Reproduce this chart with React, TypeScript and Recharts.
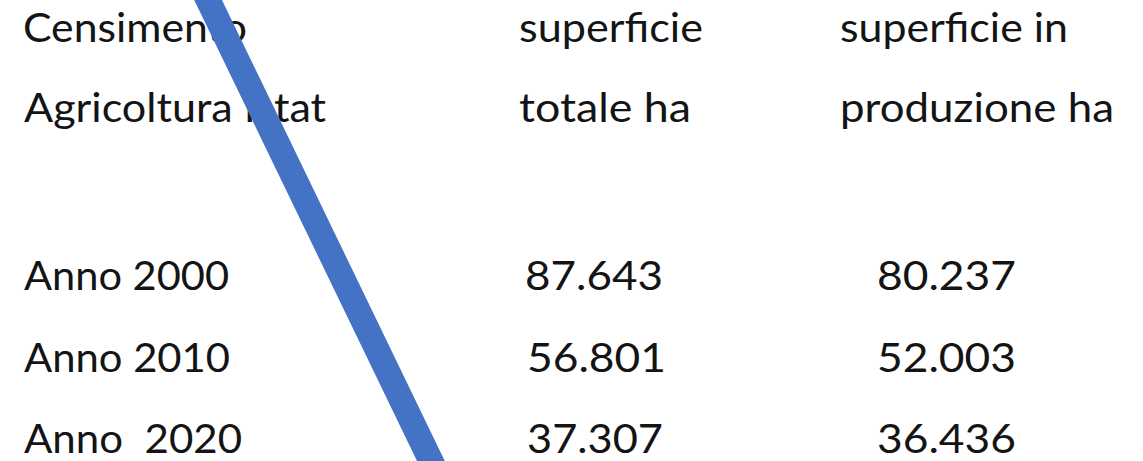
import React from "react";
import { ComposedChart, Line, XAxis, YAxis } from "recharts";

const W = 1143;
const H = 461;

// Table content
const headerLine1 = ["Censimento", "superficie", "superficie in"];
const headerLine2 = ["Agricoltura Istat", "totale ha", "produzione ha"];
const years = ["Anno 2000", "Anno 2010", "Anno  2020"];
const totalHa = ["87.643", "56.801", "37.307"];
const productionHa = ["80.237", "52.003", "36.436"];

// Diagonal stroke (in a pixel-like data space, 0..1143 x 0..461, y downward)
const strokeX = [196, 443];
const strokeY = [-25, 486];

const lineData = strokeX.map((x, i) => ({ x, y: strokeY[i] }));

// Layout (positions / widths of the text cells)
const FONT = "Lato, 'Open Sans', sans-serif";
const FS = 40;
const headX = [23, 519, 840];
const head1Len = [224, 184, 228];
const head2X = [24, 519, 840];
const head2Len = [302, 172, 274];
const headBase = [42, 122];
const rowBase = [290, 372, 453];
const yearX = 24;
const yearLen = [205, 206, 218];
const totX = [525, 527, 527];
const totLen = [138, 139, 136];
const prodX = 877;
const prodLen = [139, 139, 139];

export default function App() {
  const common = { lengthAdjust: "spacingAndGlyphs" as const, style: { whiteSpace: "pre" as const } };
  return (
    <div style={{ position: "absolute", left: 0, top: 0, width: W, height: H, background: "#fff", overflow: "hidden" }}>
      <svg width={W} height={H} style={{ position: "absolute", left: 0, top: 0 }}>
        <g fill="#141414" fontFamily={FONT} fontSize={FS}>
          {headerLine1.map((t, i) => (
            <text key={"h1" + i} x={headX[i]} y={headBase[0]} textLength={head1Len[i]} {...common}>{t}</text>
          ))}
          {headerLine2.map((t, i) => (
            <text key={"h2" + i} x={head2X[i]} y={headBase[1]} textLength={head2Len[i]} {...common}>{t}</text>
          ))}
          {years.map((t, r) => (
            <text key={"y" + r} x={yearX} y={rowBase[r]} textLength={yearLen[r]} {...common}>{t}</text>
          ))}
          {totalHa.map((t, r) => (
            <text key={"t" + r} x={totX[r]} y={rowBase[r]} textLength={totLen[r]} {...common}>{t}</text>
          ))}
          {productionHa.map((t, r) => (
            <text key={"p" + r} x={prodX} y={rowBase[r]} textLength={prodLen[r]} {...common}>{t}</text>
          ))}
        </g>
      </svg>
      <div style={{ position: "absolute", left: 0, top: 0 }}>
        <ComposedChart width={W} height={H} data={lineData} margin={{ top: 0, right: 0, bottom: 0, left: 0 }}>
          <XAxis dataKey="x" type="number" domain={[0, W]} allowDataOverflow hide />
          <YAxis dataKey="y" type="number" domain={[0, H]} reversed allowDataOverflow hide />
          <Line
            dataKey="y"
            stroke="#4472C4"
            strokeWidth={25}
            dot={false}
            activeDot={false}
            isAnimationActive={false}
          />
        </ComposedChart>
      </div>
    </div>
  );
}
